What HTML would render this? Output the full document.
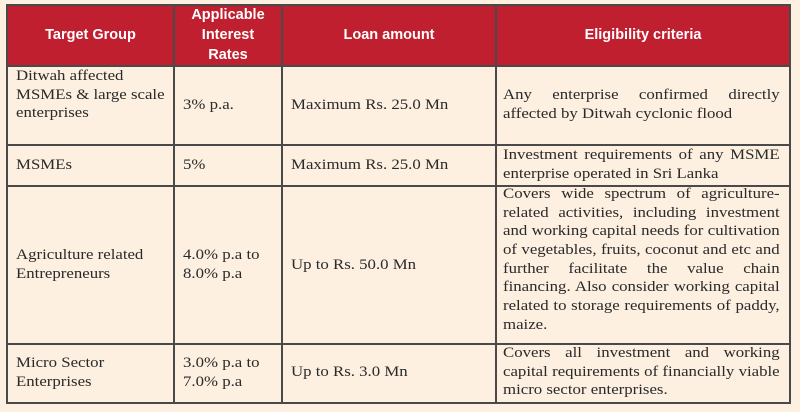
<!DOCTYPE html>
<html><head><style>
body{margin:0;width:800px;height:412px;background:#fdf0e1;position:relative;overflow:hidden;font-family:"Liberation Serif",serif;font-size:15px;color:#2a2a2a}
.b{position:absolute;background:#4a4a4a}
.h{position:absolute;top:5px;height:61px;background:#c01f2f}
.ht{position:absolute;color:#fff;font-family:"Liberation Sans",sans-serif;font-weight:bold;font-size:14.5px;text-align:center;line-height:20px}
.t{position:absolute;line-height:18.7px;white-space:nowrap;transform:scaleX(1.12);transform-origin:0 0}
.j{position:absolute;left:503px;width:247px;line-height:18.7px;transform:scaleX(1.12);transform-origin:0 0}
.j div{text-align:justify;text-align-last:justify;height:18.7px;white-space:nowrap}
.j div.l{text-align-last:left}
</style></head><body>
<div class="h" style="left:7px;width:783px"></div>
<div class="ht" style="left:7px;width:167px;top:25px">Target Group</div>
<div class="ht" style="left:174px;width:108px;top:5px">Applicable<br>Interest<br>Rates</div>
<div class="ht" style="left:282px;width:214px;top:25px">Loan amount</div>
<div class="ht" style="left:496px;width:294px;top:25px">Eligibility criteria</div>
<div class="b" style="left:6px;top:4px;width:2px;height:400px"></div>
<div class="b" style="left:173px;top:4px;width:2px;height:400px"></div>
<div class="b" style="left:281px;top:4px;width:2px;height:400px"></div>
<div class="b" style="left:495px;top:4px;width:2px;height:400px"></div>
<div class="b" style="left:789px;top:4px;width:2px;height:400px"></div>
<div class="b" style="left:6px;top:4px;width:785px;height:2px"></div>
<div class="b" style="left:6px;top:65px;width:785px;height:2px"></div>
<div class="b" style="left:6px;top:144px;width:785px;height:2px"></div>
<div class="b" style="left:6px;top:185px;width:785px;height:2px"></div>
<div class="b" style="left:6px;top:343px;width:785px;height:2px"></div>
<div class="b" style="left:6px;top:402px;width:785px;height:2px"></div>
<div class="t" style="left:16px;top:67px">Ditwah affected<br>MSMEs &amp; large scale<br>enterprises</div>
<div class="t" style="left:183px;top:96px">3% p.a.</div>
<div class="t" style="left:291px;top:96px">Maximum Rs. 25.0 Mn</div>
<div class="j" style="top:86px"><div>Any enterprise confirmed directly</div><div class="l">affected by Ditwah cyclonic flood</div></div>
<div class="t" style="left:16px;top:156px">MSMEs</div>
<div class="t" style="left:183px;top:156px">5%</div>
<div class="t" style="left:291px;top:156px">Maximum Rs. 25.0 Mn</div>
<div class="j" style="top:146px"><div>Investment requirements of any MSME</div><div class="l">enterprise operated in Sri Lanka</div></div>
<div class="t" style="left:16px;top:246px">Agriculture related<br>Entrepreneurs</div>
<div class="t" style="left:183px;top:246px">4.0% p.a to<br>8.0% p.a</div>
<div class="t" style="left:291px;top:256px">Up to Rs. 50.0 Mn</div>
<div class="j" style="top:185px"><div>Covers wide spectrum of agriculture-</div><div>related activities, including investment</div><div>and working capital needs for cultivation</div><div>of vegetables, fruits, coconut and etc and</div><div>further facilitate the value chain</div><div>financing. Also consider working capital</div><div>related to storage requirements of paddy,</div><div class="l">maize.</div></div>
<div class="t" style="left:16px;top:354px">Micro Sector<br>Enterprises</div>
<div class="t" style="left:183px;top:354px">3.0% p.a to<br>7.0% p.a</div>
<div class="t" style="left:291px;top:363px">Up to Rs. 3.0 Mn</div>
<div class="j" style="top:344px"><div>Covers all investment and working</div><div>capital requirements of financially viable</div><div class="l">micro sector enterprises.</div></div>
</body></html>
